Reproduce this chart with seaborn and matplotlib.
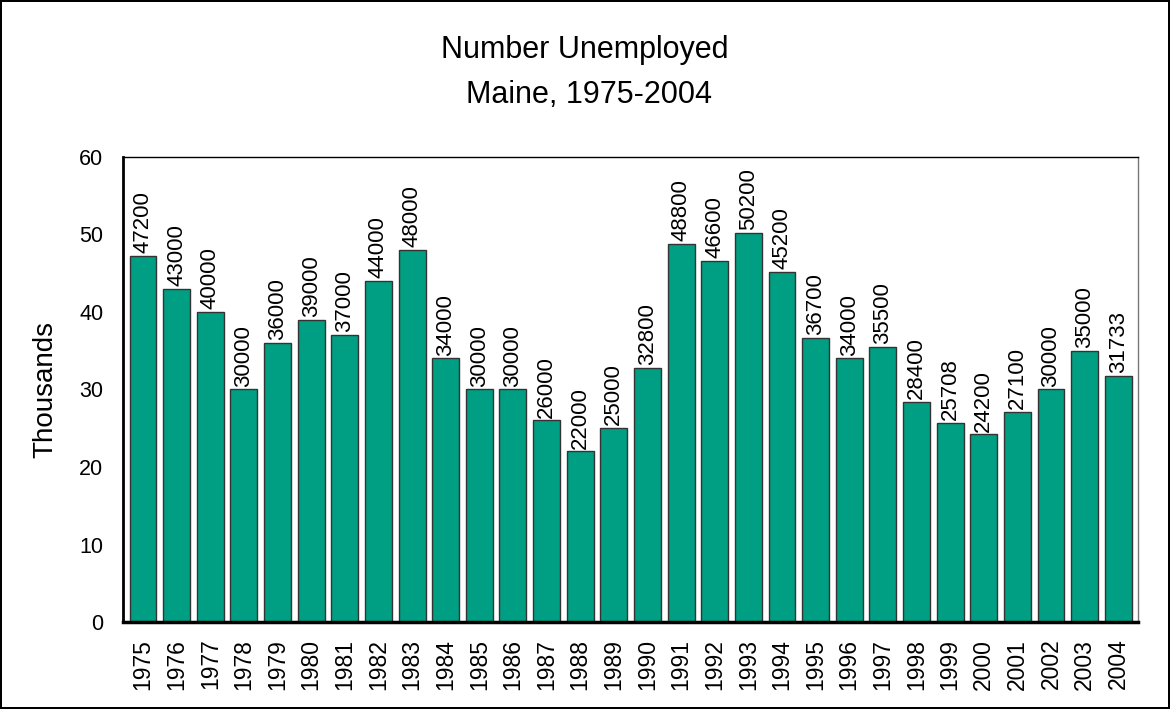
import numpy as np
import pandas as pd
import seaborn as sns
import matplotlib.pyplot as plt

years = [str(y) for y in range(1975, 2005)]
unemployed = [47200, 43000, 40000, 30000, 36000, 39000, 37000, 44000, 48000, 34000,
              30000, 30000, 26000, 22000, 25000, 32800, 48800, 46600, 50200, 45200,
              36700, 34000, 35500, 28400, 25708, 24200, 27100, 30000, 35000, 31733]

df = pd.DataFrame({'year': years, 'unemployed': unemployed})
df['thousands'] = df['unemployed'] / 1000

sns.set_style("white")
plt.rcParams['font.family'] = ['Liberation Sans', 'DejaVu Sans']
plt.rcParams['text.color'] = 'black'
plt.rcParams['axes.labelcolor'] = 'black'
plt.rcParams['xtick.color'] = 'black'
plt.rcParams['ytick.color'] = 'black'

fig = plt.figure(figsize=(11.7, 7.09), dpi=100)
fig.patch.set_edgecolor('black')
fig.patch.set_linewidth(1.5)
ax = fig.add_axes([0.105, 0.1227, 0.868, 0.6559])

sns.barplot(data=df, x='year', y='thousands', color='#009E82', saturation=1,
            width=0.8, edgecolor='#333333', linewidth=1, ax=ax)

for i, v in enumerate(unemployed):
    ax.annotate(str(v), (i, v / 1000), xytext=(0, 2), textcoords='offset points',
                rotation=90, ha='center', va='bottom', fontsize=16)

ax.set_ylim(0, 60)
ax.set_xlim(-0.6, len(years) - 0.4)
ax.set_yticks(range(0, 61, 10))
ax.tick_params(axis='y', labelsize=15.5, length=0, pad=14)
ax.tick_params(axis='x', labelsize=16.5, length=0, rotation=90, pad=12)
ax.set_xlabel('')
ax.set_ylabel('Thousands', fontsize=20, labelpad=15)

ax.spines['left'].set_linewidth(2)
ax.spines['left'].set_color('black')
ax.spines['bottom'].set_linewidth(2.5)
ax.spines['bottom'].set_color('black')
ax.spines['top'].set_linewidth(1)
ax.spines['top'].set_color('black')
ax.spines['right'].set_linewidth(1)
ax.spines['right'].set_color('#777777')

fig.text(0.5, 1 - 50 / 709, 'Number Unemployed', ha='center', va='center', fontsize=22)
fig.text(0.503, 1 - 95 / 709, 'Maine, 1975-2004', ha='center', va='center', fontsize=22)

plt.savefig('out.png', dpi=100, edgecolor=fig.get_edgecolor())
